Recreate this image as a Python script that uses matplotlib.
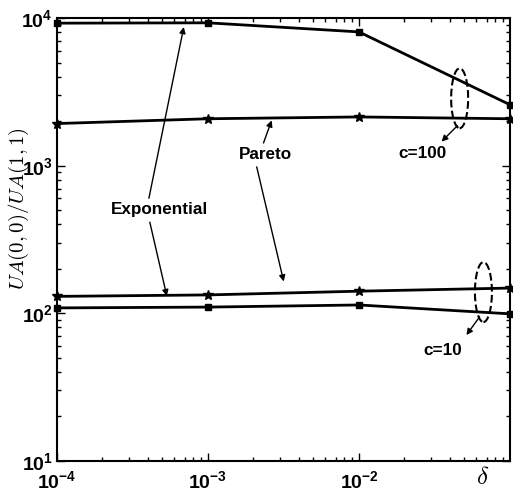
import matplotlib
matplotlib.use('Agg')
import matplotlib.pyplot as plt
from matplotlib.patches import Ellipse

# valores de delta e razao UA(0,0)/UA(1,1)
delta = [1e-4, 1e-3, 1e-2, 1e-1]
exp_c100 = [9250, 9300, 8070, 2590]
par_c100 = [1930, 2080, 2140, 2080]
par_c10 = [130, 133, 141, 148]
exp_c10 = [108.6, 110, 113.7, 99]

xticks = [1e-4, 1e-3, 1e-2]
xtick_labels = ['$\\mathregular{10^{-4}}$', '$\\mathregular{10^{-3}}$', '$\\mathregular{10^{-2}}$']
yticks = [1e1, 1e2, 1e3, 1e4]
ytick_labels = ['$\\mathregular{10^{1}}$', '$\\mathregular{10^{2}}$', '$\\mathregular{10^{3}}$', '$\\mathregular{10^{4}}$']

plt.rcParams['font.family'] = 'Liberation Sans'
plt.rcParams['font.weight'] = 'bold'

fig = plt.figure(figsize=(5.13, 4.91), dpi=100)
ax = fig.add_axes([0.111, 0.0617, 0.883, 0.9013])

estilo = dict(color='black', lw=2, clip_on=False, zorder=3)
ax.plot(delta, exp_c100, marker='s', ms=5, **estilo)
ax.plot(delta, par_c100, marker='*', ms=7, **estilo)
ax.plot(delta, par_c10, marker='*', ms=7, **estilo)
ax.plot(delta, exp_c10, marker='s', ms=5, **estilo)

ax.set_xscale('log')
ax.set_yscale('log')
ax.set_xlim(1e-4, 1e-1)
ax.set_ylim(1e1, 1e4)
ax.set_xticks(xticks)
ax.set_xticklabels(xtick_labels)
ax.set_yticks(yticks)
ax.set_yticklabels(ytick_labels)
ax.tick_params(which='both', direction='in', top=True, right=True, width=1)
ax.tick_params(which='major', length=6, labelsize=14)
ax.tick_params(axis='x', which='major', pad=7)
ax.tick_params(axis='y', which='major', pad=3)
ax.tick_params(which='minor', length=3)
for s in ax.spines.values():
    s.set_linewidth(1.5)

ax.set_ylabel('$UA(0,0)/UA(1,1)$', fontsize=15, math_fontfamily='cm')
ax.yaxis.set_label_coords(-0.058, 0.57)
ax.text(0.939, -0.037, '$\\delta$', transform=ax.transAxes, fontsize=18,
        ha='center', va='center', math_fontfamily='cm')

# rotulos e setas
seta = dict(arrowstyle='-|>', lw=1, color='black', mutation_scale=9, shrinkA=0, shrinkB=0)
def flecha(ini, fim):
    ax.annotate('', xy=fim, xytext=ini, xycoords='axes fraction',
                textcoords='axes fraction', arrowprops=seta)

ax.text(0.227, 0.568, 'Exponential', transform=ax.transAxes, fontsize=12.3, ha='center', va='center')
flecha((0.203, 0.593), (0.280, 0.980))
flecha((0.205, 0.539), (0.2426, 0.372))

ax.text(0.461, 0.693, 'Pareto', transform=ax.transAxes, fontsize=12.3, ha='center', va='center')
flecha((0.456, 0.718), (0.474, 0.769))
flecha((0.441, 0.664), (0.5006, 0.405))

ax.add_patch(Ellipse((0.889, 0.819), 0.0375, 0.1355, transform=ax.transAxes,
                     fill=False, ls='--', lw=1.5, ec='black', zorder=4))
flecha((0.884, 0.757), (0.849, 0.721))
ax.text(0.807, 0.695, 'c=100', transform=ax.transAxes, fontsize=12.3, ha='center', va='center')

ax.add_patch(Ellipse((0.9415, 0.381), 0.0375, 0.1355, transform=ax.transAxes,
                     fill=False, ls='--', lw=1.5, ec='black', zorder=4))
flecha((0.933, 0.325), (0.904, 0.284))
ax.text(0.851, 0.250, 'c=10', transform=ax.transAxes, fontsize=12.3, ha='center', va='center')

fig.savefig('out.png', dpi=100)
